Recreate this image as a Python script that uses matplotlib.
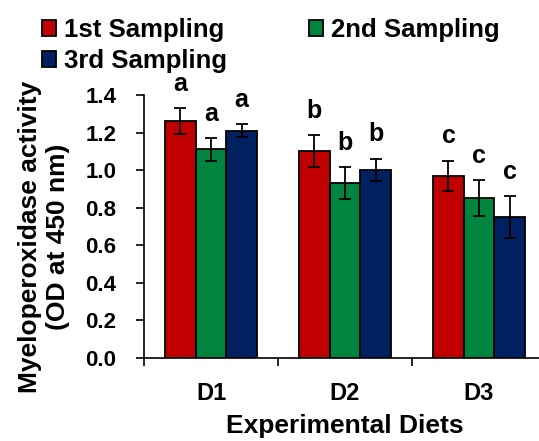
import numpy as np
import matplotlib
matplotlib.use("Agg")
import matplotlib.pyplot as plt

plt.rcParams['font.family'] = ['Liberation Sans', 'DejaVu Sans']
plt.rcParams['font.weight'] = 'bold'

diets = ["D1", "D2", "D3"]
series = ["1st Sampling", "2nd Sampling", "3rd Sampling"]
values = [[1.26, 1.10, 0.97],
          [1.11, 0.93, 0.85],
          [1.21, 1.00, 0.75]]
errors = [[0.07, 0.085, 0.08],
          [0.06, 0.085, 0.095],
          [0.035, 0.06, 0.11]]
letters = [["a", "b", "c"],
           ["a", "b", "c"],
           ["a", "b", "c"]]
colors = ["#C00000", "#00853E", "#002060"]

fig = plt.figure(figsize=(5.39, 4.41), dpi=100)
ax = fig.add_axes([144/539, 83/441, 402/539, 263/441])

x = np.arange(len(diets))
w = 0.228
handles = []
for i in range(3):
    pos = x + (i - 1) * w
    b = ax.bar(pos, values[i], w, color=colors[i], edgecolor="black", linewidth=1.3,
               label=series[i], zorder=2)
    ax.errorbar(pos, values[i], yerr=errors[i], fmt="none", ecolor="black",
                elinewidth=1.3, capsize=4.5, capthick=1.3, zorder=3)
    handles.append(b)
    for j in range(len(diets)):
        ax.annotate(letters[i][j], (pos[j], values[i][j] + errors[i][j]),
                    xytext=(0, 9), textcoords="offset points", ha="center", va="bottom",
                    fontsize=18, fontweight="bold")

ax.set_xlim(-0.5, 2.5)
ax.set_ylim(0, 1.4)
ax.set_yticks(np.arange(0, 1.41, 0.2))
ax.set_yticklabels(["%.1f" % v for v in np.arange(0, 1.41, 0.2)], fontsize=16, fontweight="bold")
ax.tick_params(axis="y", direction="out", length=6, width=1.2, pad=14)

# ticks between groups, labels at group centres
ax.set_xticks([-0.5, 0.5, 1.5, 2.5])
ax.set_xticklabels([])
ax.tick_params(axis="x", which="major", direction="out", length=6, width=1.2)
ax.set_xticks(x, minor=True)
ax.set_xticklabels(diets, minor=True, fontsize=17, fontweight="bold")
ax.tick_params(axis="x", which="minor", length=0, pad=17)

ax.spines["top"].set_visible(False)
ax.spines["right"].set_visible(False)
ax.spines["left"].set_linewidth(1.2)
ax.spines["bottom"].set_linewidth(1.2)

ax.set_xlabel("Experimental Diets", fontsize=19, fontweight="bold", labelpad=7)
ax.set_ylabel("Myeloperoxidase activity\n(OD at 450 nm)", fontsize=19, fontweight="bold",
              linespacing=1.2)
ax.yaxis.set_label_coords(-0.184, 0.46)

fig.legend([handles[0], handles[2], handles[1]], [series[0], series[2], series[1]],
           ncol=2, loc="upper left", bbox_to_anchor=(0.045, 1.0), frameon=False,
           prop={"size": 18.5, "weight": "bold"}, handlelength=0.55, handleheight=0.55,
           handletextpad=0.3, columnspacing=3.2, labelspacing=0.28, borderaxespad=0.3)

fig.savefig("out.png", dpi=100)
